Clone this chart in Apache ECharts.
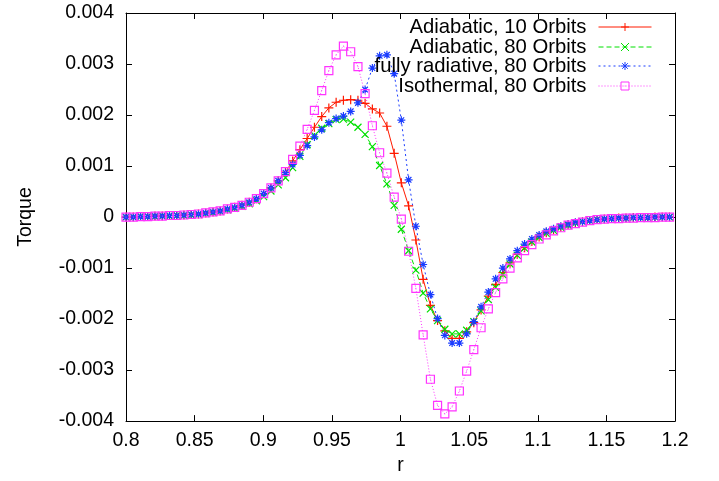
<!DOCTYPE html>
<html>
<head>
<meta charset="utf-8">
<script src="https://cdn.jsdelivr.net/npm/echarts@6/dist/echarts.min.js"></script>
<style>html,body{margin:0;padding:0;background:#fff;}#c{width:719px;height:481px;}</style>
</head>
<body>
<div id="c"></div>
<script>
// r grid (x values)
var rValues = [0.8000,0.8053,0.8106,0.8158,0.8211,0.8264,0.8317,0.8370,0.8422,0.8475,
0.8528,0.8581,0.8634,0.8686,0.8739,0.8792,0.8845,0.8898,0.8950,0.9003,
0.9056,0.9109,0.9162,0.9214,0.9267,0.9320,0.9373,0.9426,0.9478,0.9531,
0.9584,0.9637,0.9690,0.9742,0.9795,0.9848,0.9901,0.9954,1.0006,1.0059,
1.0112,1.0165,1.0218,1.0270,1.0323,1.0376,1.0429,1.0482,1.0534,1.0587,
1.0640,1.0693,1.0746,1.0798,1.0851,1.0904,1.0957,1.1010,1.1062,1.1115,
1.1168,1.1221,1.1274,1.1326,1.1379,1.1432,1.1485,1.1538,1.1590,1.1643,
1.1696,1.1749,1.1802,1.1854,1.1907,1.1960];

var adiabatic10 = [0,0,0.00001,0.00001,0.00002,0.00002,0.00003,0.00003,0.00004,0.00005,
0.00006,0.00008,0.0001,0.00012,0.00016,0.00019,0.00023,0.00029,0.00036,0.00046,
0.00057,0.00071,0.00088,0.0011,0.00132,0.00154,0.00176,0.00197,0.00214,0.00225,
0.00229,0.0023,0.00229,0.00223,0.00212,0.00204,0.00178,0.00125,0.00067,0.00022,
-0.00045,-0.00122,-0.00173,-0.00203,-0.00223,-0.00238,-0.00238,-0.00225,-0.00207,-0.00182,
-0.00155,-0.00132,-0.00109,-0.0009,-0.00073,-0.0006,-0.00048,-0.00039,-0.00031,-0.00025,
-0.0002,-0.00015,-0.00012,-0.00009,-0.00007,-0.00005,-0.00004,-0.00003,-0.00002,-0.00002,
-0.00001,-0.00001,-0.00001,0,0,0];

var adiabatic80 = [0,0,0.00001,0.00001,0.00001,0.00002,0.00002,0.00003,0.00003,0.00004,
0.00005,0.00007,0.00009,0.00011,0.00014,0.00017,0.00021,0.00026,0.00032,0.0004,
0.00051,0.00063,0.00077,0.00097,0.00119,0.00142,0.0016,0.00174,0.00183,0.00191,
0.00192,0.00186,0.00176,0.00162,0.00138,0.00101,0.00065,0.00023,-0.00024,-0.00066,
-0.00104,-0.00149,-0.0018,-0.00203,-0.0022,-0.00229,-0.00229,-0.00222,-0.00205,-0.00184,
-0.00162,-0.00138,-0.00113,-0.00092,-0.00075,-0.00061,-0.00049,-0.0004,-0.00032,-0.00026,
-0.0002,-0.00016,-0.00012,-0.00009,-0.00007,-0.00005,-0.00004,-0.00003,-0.00002,-0.00002,
-0.00001,-0.00001,-0.00001,0,0,0];

var radiative80 = [0,0,0.00001,0.00001,0.00002,0.00002,0.00003,0.00003,0.00004,0.00005,
0.00006,0.00008,0.0001,0.00012,0.00016,0.00019,0.00023,0.00029,0.00036,0.00046,
0.00057,0.00071,0.00087,0.00103,0.00121,0.0014,0.00157,0.00171,0.00185,0.00193,
0.00198,0.00207,0.00224,0.0025,0.00292,0.00316,0.00318,0.00281,0.0019,0.00073,
-0.00018,-0.00093,-0.00152,-0.00199,-0.00232,-0.00247,-0.00247,-0.00229,-0.00205,-0.00176,
-0.00147,-0.00121,-0.001,-0.00082,-0.00066,-0.00053,-0.00043,-0.00035,-0.00028,-0.00023,
-0.00018,-0.00014,-0.0001,-0.00009,-0.00007,-0.00005,-0.00004,-0.00003,-0.00002,-0.00002,
-0.00001,-0.00001,-0.00001,0,0,0];

var isothermal80 = [0,0,0.00001,0.00001,0.00002,0.00002,0.00003,0.00003,0.00004,0.00005,
0.00006,0.00008,0.0001,0.00012,0.00016,0.00019,0.00023,0.00029,0.00036,0.00046,
0.00057,0.00071,0.00089,0.00113,0.00139,0.00172,0.00209,0.00248,0.00287,0.00318,
0.00335,0.00324,0.00295,0.00242,0.00179,0.00126,0.00086,0.00039,-0.00004,-0.00067,
-0.0014,-0.00231,-0.00318,-0.00369,-0.00386,-0.00372,-0.00341,-0.00302,-0.0026,-0.00217,
-0.0018,-0.00148,-0.00121,-0.001,-0.0008,-0.00066,-0.00054,-0.00043,-0.00035,-0.00027,
-0.00021,-0.00016,-0.00013,-0.0001,-0.00007,-0.00005,-0.00004,-0.00003,-0.00003,-0.00002,
-0.00002,-0.00001,-0.00001,-0.00001,0,0];

var seriesNames = ['Adiabatic, 10 Orbits','Adiabatic, 80 Orbits','fully radiative, 80 Orbits','Isothermal, 80 Orbits'];
var xTickLabels = ['0.8','0.85','0.9','0.95','1','1.05','1.1','1.15','1.2'];
var yTickLabels = ['-0.004','-0.003','-0.002','-0.001','0','0.001','0.002','0.003','0.004'];

function pairs(ys){ return rValues.map(function(r,i){ return [r, ys[i]]; }); }

var FONT = '"Liberation Sans", Arial, Helvetica, sans-serif';
var FS = 19.5;

var styles = [
  {color:'#ff1a00', type:'solid', symbol:'path://M0,5L10,5M5,0L5,10', size:9, width:1},
  {color:'#00e000', type:[5,3], symbol:'path://M0,0L10,10M10,0L0,10', size:7, width:1},
  {color:'#1a3cff', type:[2,3], symbol:'path://M0,5L10,5M5,0L5,10M1.5,1.5L8.5,8.5M8.5,1.5L1.5,8.5', size:8, width:1},
  {color:'#ff33ff', type:[1,2], symbol:'path://M0,0L10,0L10,10L0,10Z M4.6,5L5.4,5', size:8, width:1}
];
var dataSets = [adiabatic10, adiabatic80, radiative80, isothermal80];

var series = dataSets.map(function(d, k){
  var s = styles[k];
  return {
    name: seriesNames[k],
    type: 'line',
    data: pairs(d),
    symbol: s.symbol,
    symbolSize: s.size,
    showAllSymbol: true,
    lineStyle: {color: s.color, width: s.width, type: s.type},
    itemStyle: {color: 'rgba(0,0,0,0)', borderColor: s.color, borderWidth: 1.2},
    emphasis: {disabled: true},
    animation: false
  };
});

var rowTops = [17, 37, 56, 76];
var legends = seriesNames.map(function(n, k){
  return {
    data: [n],
    right: 67,
    top: rowTops[k],
    orient: 'vertical',
    align: 'right',
    itemWidth: 53,
    itemHeight: 10,
    padding: 0,
    selectedMode: false,
    lineStyle: {width: 1},
    itemStyle: {borderWidth: 1},
    textStyle: {fontFamily: FONT, fontSize: 20.3, color: '#000', padding: [0, 7, 0, 0]}
  };
});

var axisCommon = {
  axisLine: {show: true, onZero: false, lineStyle: {color: '#000', width: 1}},
  axisTick: {show: true, inside: true, length: 6, lineStyle: {color: '#000'}},
  splitLine: {show: false}
};

var option = {
  backgroundColor: '#fff',
  animation: false,
  grid: {left: 126, right: 44, top: 13, bottom: 59, containLabel: false},
  legend: legends,
  xAxis: [
    Object.assign({}, axisCommon, {
      type: 'value', min: 0.8, max: 1.2, interval: 0.05, position: 'bottom',
      name: 'r', nameLocation: 'middle', nameGap: 34,
      nameTextStyle: {fontFamily: FONT, fontSize: FS, color: '#000'},
      axisLabel: {fontFamily: FONT, fontSize: FS, color: '#000', margin: 10,
        formatter: function(v, i){ return xTickLabels[i]; }}
    }),
    Object.assign({}, axisCommon, {
      type: 'value', min: 0.8, max: 1.2, interval: 0.05, position: 'top',
      axisLabel: {show: false}
    })
  ],
  yAxis: [
    Object.assign({}, axisCommon, {
      type: 'value', min: -0.004, max: 0.004, interval: 0.001, position: 'left',
      name: 'Torque', nameLocation: 'middle', nameGap: 90, nameRotate: 90,
      nameTextStyle: {fontFamily: FONT, fontSize: FS, color: '#000'},
      axisLabel: {fontFamily: FONT, fontSize: FS, color: '#000', margin: 12,
        formatter: function(v, i){ return yTickLabels[i]; }}
    }),
    Object.assign({}, axisCommon, {
      type: 'value', min: -0.004, max: 0.004, interval: 0.001, position: 'right',
      axisLabel: {show: false}
    })
  ],
  series: series
};

var chart = echarts.init(document.getElementById('c'), null, {renderer: 'canvas'});
chart.setOption(option);
</script>
</body>
</html>
